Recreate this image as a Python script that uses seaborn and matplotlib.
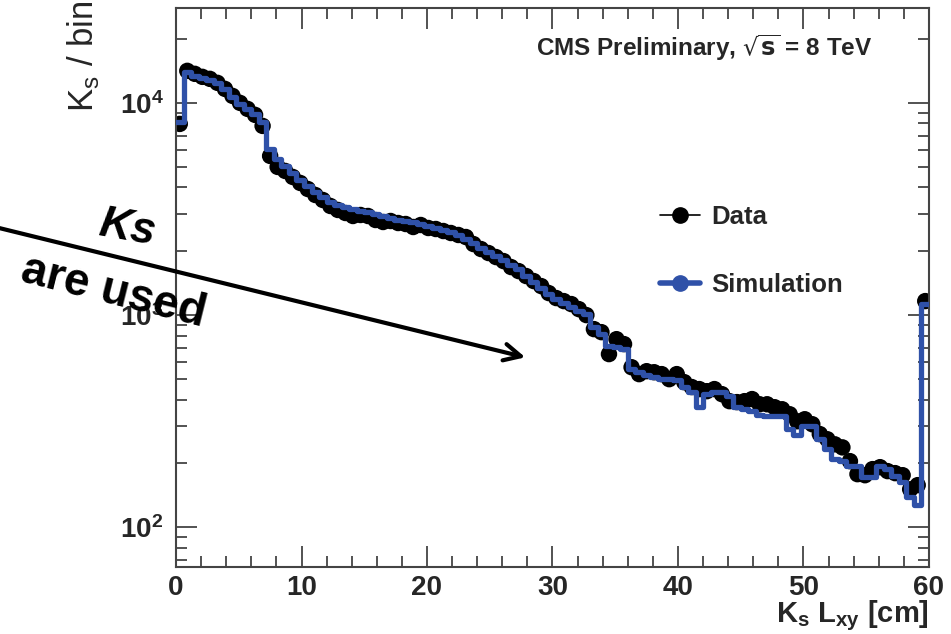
import numpy as np
import matplotlib
matplotlib.use("Agg")
import matplotlib.pyplot as plt
import matplotlib.ticker as mticker
from matplotlib.lines import Line2D
import seaborn as sns

# ---- data (K_s candidates per 0.6 cm bin of L_xy) ----
bin_width = 0.6
x_min, x_max = 0.0, 60.0
data_counts = [
    7960, 14157, 13705, 13265, 12980, 12430, 11640, 10790, 10000, 9370,
    8780, 7790, 5623, 4991, 4778, 4477, 4194, 3929, 3681, 3487,
    3267, 3129, 3028, 2931, 2963, 2931, 2806, 2746, 2776, 2716,
    2687, 2601, 2658, 2573, 2545, 2490, 2437, 2385, 2333, 2162,
    2048, 1961, 1877, 1797, 1684, 1612, 1528, 1447, 1370, 1270,
    1203, 1164, 1127, 1067, 1000, 859, 831, 655, 770, 730,
    568, 527, 544, 538, 527, 499, 527, 483, 458, 448,
    438, 448, 424, 393, 389, 393, 402, 380, 380, 368,
    360, 341, 316, 323, 306, 275, 260, 246, 238, 205,
    178, 176, 188, 192, 184, 180, 176, 151, 158, 1164,
]
sim_counts = [
    8135, 14006, 13410, 13120, 12840, 12430, 11640, 10670, 9890, 9370,
    8875, 8135, 6067, 5443, 5045, 4676, 4333, 4060, 3804, 3603,
    3412, 3303, 3232, 3162, 3095, 3060, 2994, 2931, 2867, 2806,
    2776, 2746, 2687, 2629, 2573, 2517, 2463, 2385, 2283, 2186,
    2070, 1983, 1898, 1817, 1721, 1648, 1528, 1431, 1341, 1256,
    1190, 1139, 1091, 1044, 1011, 878, 814, 714, 707, 691,
    556, 538, 521, 510, 499, 499, 494, 458, 433, 368,
    424, 433, 433, 415, 368, 360, 353, 338, 334, 334,
    334, 290, 272, 300, 300, 260, 233, 209, 205, 194,
    194, 172, 172, 194, 188, 174, 163, 139, 128, 1127,
]
y_major = [1e2, 1e3, 1e4]
y_major_labels = [r"$\mathregular{10^{2}}$", r"$\mathregular{10^{3}}$", r"$\mathregular{10^{4}}$"]
x_major = [0, 10, 20, 30, 40, 50, 60]

edges = np.arange(len(sim_counts) + 1) * bin_width + x_min
centers = edges[:-1] + bin_width / 2
sim_steps = np.append(sim_counts, sim_counts[-1])

sns.set_theme(style="ticks")
plt.rcParams["font.family"] = ["Liberation Sans", "DejaVu Sans"]
plt.rcParams["mathtext.fontset"] = "dejavusans"

blue = "#2f51a8"
axis_col = "#444444"
text_col = "#262626"

fig = plt.figure(figsize=(9.51, 6.34), dpi=100)
ax = fig.add_axes([176 / 951, 1 - 567 / 634, (929 - 176) / 951, (567 - 8) / 634])

sns.scatterplot(x=centers, y=data_counts, color="black", s=140, edgecolor="none",
                linewidth=0, ax=ax, zorder=2, legend=False)
sns.lineplot(x=edges, y=sim_steps, drawstyle="steps-post", color=blue, lw=3.8,
             estimator=None, sort=False, ax=ax, zorder=3, legend=False)

ax.set_yscale("log")
ax.set_xlim(x_min, x_max)
ax.set_ylim(65, 28000)

ax.xaxis.set_major_locator(mticker.FixedLocator(x_major))
ax.xaxis.set_minor_locator(mticker.MultipleLocator(2))
ax.yaxis.set_major_locator(mticker.FixedLocator(y_major))
ax.yaxis.set_major_formatter(mticker.FixedFormatter(y_major_labels))
ax.yaxis.set_minor_locator(mticker.LogLocator(base=10, subs=np.arange(2, 10), numticks=20))
ax.yaxis.set_minor_formatter(mticker.NullFormatter())

ax.tick_params(which="both", direction="in", top=True, right=True, color=axis_col, width=1.3)
ax.tick_params(which="major", length=15)
ax.tick_params(which="minor", length=8)
ax.tick_params(axis="x", which="major", pad=6, labelsize=20, labelcolor=text_col)
ax.tick_params(axis="y", which="major", pad=9, labelsize=20, labelcolor=text_col)
for lab in ax.get_xticklabels() + ax.get_yticklabels():
    lab.set_fontweight("bold")
for sp in ax.spines.values():
    sp.set_color(axis_col)
    sp.set_linewidth(1.5)

ax.set_ylabel(r"K$_{\mathregular{s}}$ / bin", loc="top", fontsize=25, color=text_col)
ax.yaxis.set_label_coords(-0.099, 1.014)
ax.set_xlabel(r"K$_{\mathregular{s}}$ L$_{\mathregular{xy}}$ [cm]", loc="right", fontsize=21,
              fontweight="bold", color=text_col)
ax.xaxis.set_label_coords(1.0, -0.057)

ax.text(0.925, 0.928, r"CMS Preliminary, $\sqrt{\mathbf{s}}$ = 8 TeV", transform=ax.transAxes,
        ha="right", va="center", fontsize=17.5, fontweight="bold", color=text_col)

handles = [
    Line2D([], [], color="black", lw=1.2, marker="o", markersize=11),
    Line2D([], [], color=blue, lw=4, marker="o", markersize=11),
]
leg = ax.legend(handles, ["Data", "Simulation"], loc="upper left",
                bbox_to_anchor=(637 / 951, 1 - 182 / 634), bbox_transform=fig.transFigure,
                frameon=False, fontsize=18.5, handlelength=1.55, handletextpad=0.45,
                labelspacing=1.7)
for t in leg.get_texts():
    t.set_fontweight("bold")
    t.set_color(text_col)

# annotation overlay
fig.text(127, 634 - 229, "Ks", transform=None, fontsize=32, fontweight="bold",
         style="italic", rotation=-10, ha="center", va="center", color="black", zorder=10)
fig.text(113, 634 - 292, "are used", transform=None, fontsize=33, fontweight="bold",
         rotation=-14, ha="center", va="center", color="black", zorder=10)
ax.annotate("", xy=(528, 634 - 358), xycoords="figure pixels",
            xytext=(-5, 634 - 227), textcoords="figure pixels",
            arrowprops=dict(arrowstyle="->", lw=3, color="black", mutation_scale=30),
            annotation_clip=False, zorder=10)

fig.savefig("out.png", dpi=100)
